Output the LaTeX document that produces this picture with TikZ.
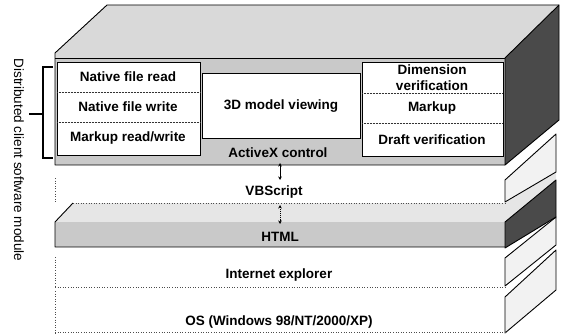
\documentclass[tikz,border=0pt]{standalone}
\usepackage{fontspec}
\setmainfont{Liberation Sans}
\usetikzlibrary{arrows.meta}
\definecolor{topgray}{HTML}{D9D9D9}
\definecolor{frontgray}{HTML}{C9C9C9}
\definecolor{darkside}{HTML}{4A4A4A}
\definecolor{paleside}{HTML}{F2F2F2}
\definecolor{htmltop}{HTML}{E6E6E6}
\begin{document}
\begin{tikzpicture}[x=1pt,y=-1pt,
  lbl/.style={font=\bfseries\fontsize{13.5}{16}\selectfont, inner sep=0pt, align=center},
  vlbl/.style={font=\fontsize{13.5}{16}\selectfont, inner sep=0pt, rotate=-90},
  edge/.style={draw=black, line width=0.9pt, line join=round},
  faint/.style={draw=black!70, line width=0.6pt, dotted},
  divider/.style={draw=black!80, line width=0.5pt, densely dotted},
  boxline/.style={draw=black, line width=0.9pt, fill=white},
  link/.style={line width=0.9pt, {Stealth[length=3.5pt,width=3.5pt]}-{Stealth[length=3.5pt,width=3.5pt]}}
]
\useasboundingbox (0,0) rectangle (564,334);

% ---------- OS layer ----------
\draw[edge, fill=paleside] (505,297) -- (556,250) -- (556,290) -- (505,333) -- cycle;
\draw[faint] (55,291) -- (55,333);
\draw[faint] (55,332) -- (505,332);

% ---------- Internet explorer layer ----------
\draw[edge, fill=paleside] (505,258) -- (556,217) -- (556,245) -- (505,286) -- cycle;
\draw[faint] (55,257) -- (55,286);
\draw[faint] (55,287) -- (505,287);

% ---------- HTML layer ----------
\fill[htmltop] (55,222) -- (73,203) -- (505,203) -- (556,172) -- (556,180) -- (505,222) -- cycle;
\fill[frontgray] (55,222) rectangle (505,247);
\draw[edge, fill=darkside] (505,222) -- (556,180) -- (556,217) -- (505,248) -- cycle;
\draw[edge] (73,203) -- (55,222) -- (55,247) -- (505,247);
\draw[faint] (73,203) -- (505,203);

% ---------- VBScript layer ----------
\draw[edge, fill=paleside] (505,180) -- (556,134) -- (556,172) -- (505,202) -- cycle;
\draw[faint] (55,178) -- (55,202);

% ---------- ActiveX block ----------
\fill[topgray] (55,58) -- (55,53) -- (107,5) -- (559,5) -- (505,58) -- cycle;
\fill[frontgray] (55,58) rectangle (505,165);
\draw[edge, fill=darkside] (505,58) -- (559,5) -- (559,120) -- (505,165) -- cycle;
\draw[edge] (505,58) -- (55,58);
\draw[edge] (505,165) -- (55,165) -- (55,53) -- (107,5) -- (559,5);

% left module box
\draw[boxline] (57,62) rectangle (200,155);
\draw[divider] (57,92) -- (200,92);
\draw[divider] (57,122) -- (200,122);
% middle box
\draw[boxline] (202,73) rectangle (360,138);
% right box
\draw[boxline] (362,62) rectangle (503,156);
\draw[divider] (362,93) -- (503,93);
\draw[divider] (362,123) -- (503,123);

% ---------- labels ----------
\node[lbl] (nfr) at (128,77) {Native file read};
\node[lbl] (nfw) at (128,107) {Native file write};
\node[lbl] (mrw) at (128,138) {Markup read/write};
\node[lbl] (view) at (281,106) {3D model viewing};
\node[lbl, font=\bfseries\fontsize{13.5}{16}\selectfont] (dim) at (432,78) {Dimension\\verification};
\node[lbl] (mk) at (432,108) {Markup};
\node[lbl] (dv) at (432,140) {Draft verification};
\node[lbl] (ax) at (278,153) {ActiveX control};
\node[lbl] (vbs) at (274,192) {VBScript};
\node[lbl] (html) at (280,237) {HTML};
\node[lbl] (ie) at (279,275) {Internet explorer};
\node[lbl] (os) at (279,322) {OS (Windows 98/NT/2000/XP)};

% ---------- connectors ----------
\coordinate (a1) at (280,163);
\coordinate (a2) at (280,180);
\coordinate (b1) at (280,205);
\coordinate (b2) at (280,224);
\draw[link] (a1) -- (a2);
\draw[link, densely dotted] (b1) -- (b2);

% ---------- bracket ----------
\coordinate (bt) at (53,67);
\coordinate (bb) at (53,158);
\draw[line width=2pt] (bt) -- (43,67) -- (43,158) -- (bb);
\draw[line width=2pt] (43,114) -- (29,114);
\node[vlbl] (dcsm) at (19,160) {Distributed client software module};
\end{tikzpicture}
\end{document}
